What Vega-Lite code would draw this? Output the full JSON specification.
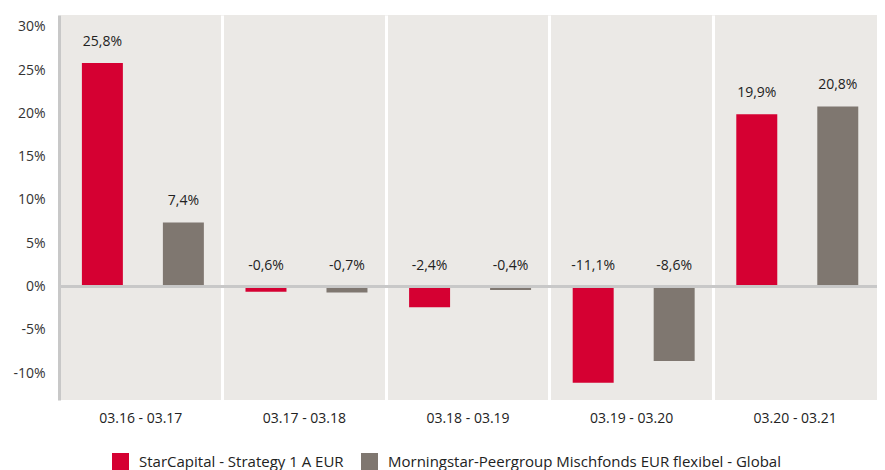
{
  "$schema": "https://vega.github.io/schema/vega-lite/v6.json",
  "width": 818,
  "height": 385,
  "autosize": "none",
  "padding": {"left": 59, "top": 15, "right": 8, "bottom": 70},
  "background": "white",
  "config": {
    "locale": {"number": {"decimal": ",", "thousands": ".", "grouping": [3], "currency": ["", " €"], "minus": "-"}},
    "view": {"fill": "#EBE9E6", "stroke": null},
    "font": "Open Sans",
    "axis": {"labelFont": "Open Sans", "labelColor": "#222222", "labelFontSize": 14}
  },
  "data": {
    "values": [
      {"period": "03.16 - 03.17", "series": "StarCapital - Strategy 1 A EUR", "v": 0.258},
      {"period": "03.16 - 03.17", "series": "Morningstar-Peergroup Mischfonds EUR flexibel - Global", "v": 0.074},
      {"period": "03.17 - 03.18", "series": "StarCapital - Strategy 1 A EUR", "v": -0.006},
      {"period": "03.17 - 03.18", "series": "Morningstar-Peergroup Mischfonds EUR flexibel - Global", "v": -0.007},
      {"period": "03.18 - 03.19", "series": "StarCapital - Strategy 1 A EUR", "v": -0.024},
      {"period": "03.18 - 03.19", "series": "Morningstar-Peergroup Mischfonds EUR flexibel - Global", "v": -0.004},
      {"period": "03.19 - 03.20", "series": "StarCapital - Strategy 1 A EUR", "v": -0.111},
      {"period": "03.19 - 03.20", "series": "Morningstar-Peergroup Mischfonds EUR flexibel - Global", "v": -0.086},
      {"period": "03.20 - 03.21", "series": "StarCapital - Strategy 1 A EUR", "v": 0.199},
      {"period": "03.20 - 03.21", "series": "Morningstar-Peergroup Mischfonds EUR flexibel - Global", "v": 0.208}
    ]
  },
  "encoding": {
    "x": {
      "field": "period", "type": "nominal",
      "scale": {"paddingInner": 0, "paddingOuter": 0},
      "axis": {"title": null, "labelAngle": 0, "ticks": false, "domain": false, "grid": true, "bandPosition": 0, "gridColor": "white", "gridWidth": 3, "gridOpacity": 1, "labelPadding": 11, "labelFontSize": 14}
    },
    "xOffset": {
      "field": "series", "type": "nominal",
      "sort": ["StarCapital - Strategy 1 A EUR", "Morningstar-Peergroup Mischfonds EUR flexibel - Global"],
      "scale": {"paddingInner": 0.494, "paddingOuter": 0.257, "align": 0.55}
    }
  },
  "layer": [
    {
      "mark": {"type": "bar"},
      "encoding": {
        "y": {
          "field": "v", "type": "quantitative",
          "scale": {"domain": [-0.131, 0.3135], "nice": false, "zero": false},
          "axis": {"title": null, "format": ".0%", "values": [-0.1, -0.05, 0, 0.05, 0.1, 0.15, 0.2, 0.25, 0.3], "grid": false, "ticks": false, "domain": true, "domainColor": "#C8C8C8", "domainWidth": 3, "labelPadding": 14, "labelFontSize": 14, "labelColor": "#333333"}
        },
        "color": {
          "field": "series", "type": "nominal",
          "sort": ["StarCapital - Strategy 1 A EUR", "Morningstar-Peergroup Mischfonds EUR flexibel - Global"],
          "scale": {"range": ["#D50032", "#7F7770"]},
          "legend": {"title": null, "orient": "none", "direction": "horizontal", "legendX": 53, "legendY": 438, "symbolType": "square", "symbolSize": 289, "symbolStrokeWidth": 0, "symbolOpacity": 1, "labelFontSize": 15, "labelColor": "#222222", "labelFont": "Open Sans", "columnPadding": 17, "labelLimit": 600, "labelOffset": 10}
        }
      }
    },
    {
      "mark": {"type": "rule", "color": "#C8C8C8", "strokeWidth": 2},
      "encoding": {"y": {"datum": 0, "type": "quantitative"}, "x": {"value": 0}, "x2": {"value": 818}, "xOffset": null}
    },
    {
      "transform": [{"filter": "datum.v >= 0"}],
      "mark": {"type": "text", "dy": -21, "fontSize": 14, "color": "#222222", "baseline": "middle"},
      "encoding": {
        "y": {"field": "v", "type": "quantitative"},
        "text": {"field": "v", "type": "quantitative", "format": ".1%"}
      }
    },
    {
      "transform": [{"filter": "datum.v < 0"}],
      "mark": {"type": "text", "dy": -21, "fontSize": 14, "color": "#222222", "baseline": "middle"},
      "encoding": {
        "y": {"datum": 0, "type": "quantitative"},
        "text": {"field": "v", "type": "quantitative", "format": ".1%"}
      }
    }
  ]
}
